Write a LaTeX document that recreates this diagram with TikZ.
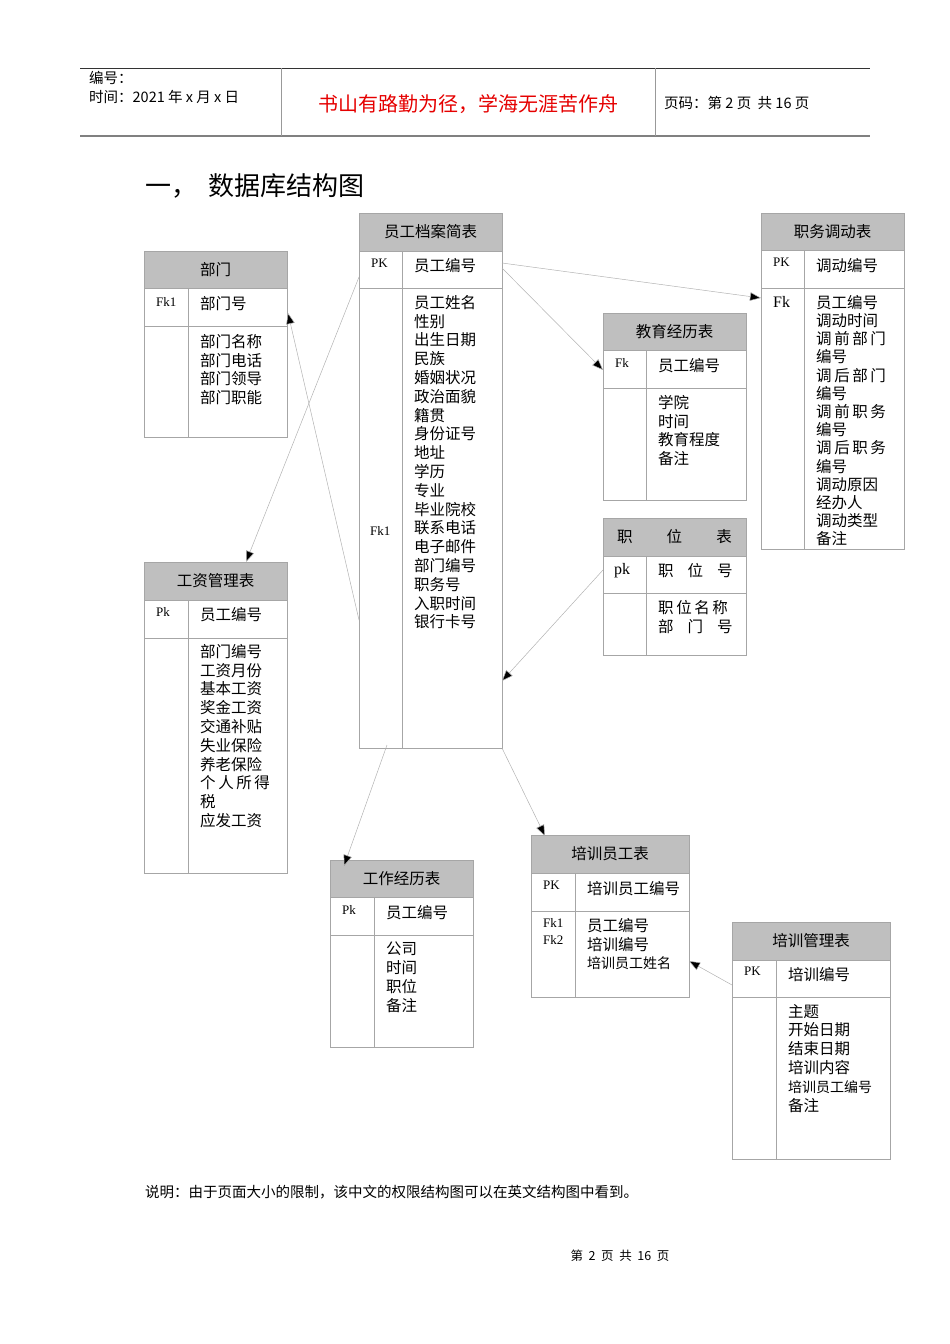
\documentclass[tikz,border=0pt]{standalone}
\usepackage{fontspec}
\setmainfont{Noto Sans CJK SC}
\newfontfamily\latf{Liberation Serif}
\usetikzlibrary{arrows.meta,calc}
\tikzset{
  tline/.style={draw=gray!70,line width=0.7pt},
  head/.style={fill=gray!50,draw=gray!70,line width=0.7pt},
  conn/.style={draw=gray!60,line width=0.5pt,-{Triangle[length=11pt,width=8.5pt,fill=black]}},
  fld/.style={anchor=north west,align=left,inner sep=0pt,font=\fontsize{15.5}{18.8}\selectfont},
  key/.style={anchor=north west,align=left,inner sep=0pt,font=\latf\fontsize{13}{19}\selectfont},
  ttl/.style={font=\fontsize{15.5}{18}\selectfont}
}
% #1 name, #2 x1, #3 top, #4 x2, #5 head, #6 pk, #7 bottom, #8 col, #9 title
\newcommand\ertable[9]{%
  \pgfmathsetmacro\mx{(#2+#4)/2}\pgfmathsetmacro\my{(#3+#5)/2}%
  \path[head] (#2,#3) rectangle (#4,#5);
  \path[tline] (#2,#5) rectangle (#4,#7);
  \path[tline] (#2,#6) -- (#4,#6) (#8,#5) -- (#8,#7);
  \node[ttl] (#1) at (\mx,\my) {#9};
  \coordinate (#1-tl) at (#2,#3);
}
\begin{document}
\begin{tikzpicture}[x=1pt,y=-1pt]
\useasboundingbox (0,0) rectangle (950,1344);
% header
\draw[line width=0.8pt,black!80] (80,68) -- (870,68);
\draw[line width=1.6pt,gray] (80,136) -- (870,136);
\draw[gray!80,line width=0.8pt] (281,68) -- (281,136) (655,68) -- (655,136);
\node[anchor=north west,inner sep=0,font=\fontsize{14.5}{19}\selectfont,align=left] (hl) at (89,71) {编号：\\时间：2021 年 x 月 x 日};
\node[font=\fontsize{20}{24}\selectfont,text=red!90!black] (hm) at (468,104) {书山有路勤为径，学海无涯苦作舟};
\node[anchor=west,inner sep=0,font=\fontsize{14.5}{18}\selectfont] (hr) at (664,103) {页码：第 2 页\ \ 共 16 页};
\node[anchor=west,inner sep=0,font=\fontsize{26}{30}\selectfont] (title) at (145,186) {一，\ \ 数据库结构图};

% tables
\ertable{bm}{144}{251}{287}{288}{326}{437}{188}{部门}
\node[key] (bmk) at (156,297) {Fk1};
\node[fld] (bmf1) at (200,296) {部门号};
\node[fld] (bmf2) at (200,334) {部门名称\\部门电话\\部门领导\\部门职能};

\ertable{yg}{359}{213}{502}{251}{288}{748}{402}{员工档案简表}
\node[key] (ygk) at (371,259) {PK};
\node[fld] (ygf1) at (414,258) {员工编号};
\node[fld] (ygf2) at (414,295) {员工姓名\\性别\\出生日期\\民族\\婚姻状况\\政治面貌\\籍贯\\身份证号\\地址\\学历\\专业\\毕业院校\\联系电话\\电子邮件\\部门编号\\职务号\\入职时间\\银行卡号};
\node[key] (ygk2) at (370,526) {Fk1};

\ertable{zw}{761}{213}{904}{250}{288}{549}{804}{职务调动表}
\node[key] (zwk) at (773,258) {PK};
\node[fld] (zwf1) at (816,258) {调动编号};
\node[key,font=\latf\fontsize{16}{19}\selectfont] (zwk2) at (773,296) {Fk};
\node[fld,font=\fontsize{15.5}{18.2}\selectfont] (zwf2) at (816,295) {员工编号\\调动时间\\调\,前\,部\,门\\编号\\调\,后\,部\,门\\编号\\调\,前\,职\,务\\编号\\调\,后\,职\,务\\编号\\调动原因\\经办人\\调动类型\\备注};

\ertable{jy}{603}{313}{746}{350}{388}{500}{646}{教育经历表}
\node[key] (jyk) at (615,358) {Fk};
\node[fld] (jyf1) at (658,358) {员工编号};
\node[fld] (jyf2) at (658,395) {学院\\时间\\教育程度\\备注};

\ertable{zwb}{603}{518}{746}{556}{593}{655}{646}{职\hspace{2.2em}位\hspace{2.2em}表}
\node[key,font=\latf\fontsize{16}{19}\selectfont] (zwbk) at (614,563) {pk};
\node[fld] (zwbf1) at (658,563) {职\hspace{0.9em}位\hspace{0.9em}号};
\node[fld] (zwbf2) at (658,600) {职\,位\,名\,称\\部\hspace{0.9em}门\hspace{0.9em}号};

\ertable{gz}{144}{562}{287}{600}{638}{873}{188}{工资管理表}
\node[key] (gzk) at (156,607) {Pk};
\node[fld] (gzf1) at (200,607) {员工编号};
\node[fld] (gzf2) at (200,644) {部门编号\\工资月份\\基本工资\\奖金工资\\交通补贴\\失业保险\\养老保险\\个\,人\,所\,得\\税\\应发工资};

\ertable{gzjl}{330}{860}{473}{897}{935}{1047}{374}{工作经历表}
\node[key] (gzjlk) at (342,905) {Pk};
\node[fld] (gzjlf1) at (386,905) {员工编号};
\node[fld] (gzjlf2) at (386,942) {公司\\时间\\职位\\备注};

\ertable{px}{531}{835}{689}{873}{911}{997}{575}{培训员工表}
\node[key] (pxk) at (543,881) {PK};
\node[fld] (pxf1) at (587,881) {培训员工编号};
\node[key,font=\latf\fontsize{13}{17}\selectfont] (pxk2) at (543,918) {Fk1\\Fk2};
\node[fld] (pxf2) at (587,918) {员工编号\\培训编号\\{\fontsize{14}{18}\selectfont 培训员工姓名}};

\ertable{pg}{732}{922}{890}{960}{997}{1159}{776}{培训管理表}
\node[key] (pgk) at (744,967) {PK};
\node[fld] (pgf1) at (788,967) {培训编号};
\node[fld] (pgf2) at (788,1004) {主题\\开始日期\\结束日期\\培训内容\\{\fontsize{14}{18}\selectfont 培训员工编号}\\备注};

% connector endpoints
\coordinate (a1) at (502,263); \coordinate (b1) at (761,298);
\coordinate (a2) at (502,268); \coordinate (b2) at (603,370);
\coordinate (a3) at (359,277); \coordinate (b3) at (246,562);
\coordinate (a4) at (359,620); \coordinate (b4) at (288,313);
\coordinate (a5) at (603,570); \coordinate (b5) at (502,681);
\coordinate (a6) at (387,745); \coordinate (b6) at (344,866);
\coordinate (a7) at (502,748); \coordinate (b7) at (545,836);
\coordinate (a8) at (732,985); \coordinate (b8) at (689,961);
\foreach \i in {1,...,8} {\draw[conn] (a\i) -- (b\i);}

\node[anchor=west,inner sep=0,font=\fontsize{14.5}{18}\selectfont] (note) at (145,1192) {说明：由于页面大小的限制，该中文的权限结构图可以在英文结构图中看到。};
\node[inner sep=0,font=\fontsize{12.5}{16}\selectfont] (foot) at (620,1256) {第\ \ 2\ \ 页\ \ 共\ \ 16\ \ 页};
\end{tikzpicture}
\end{document}
